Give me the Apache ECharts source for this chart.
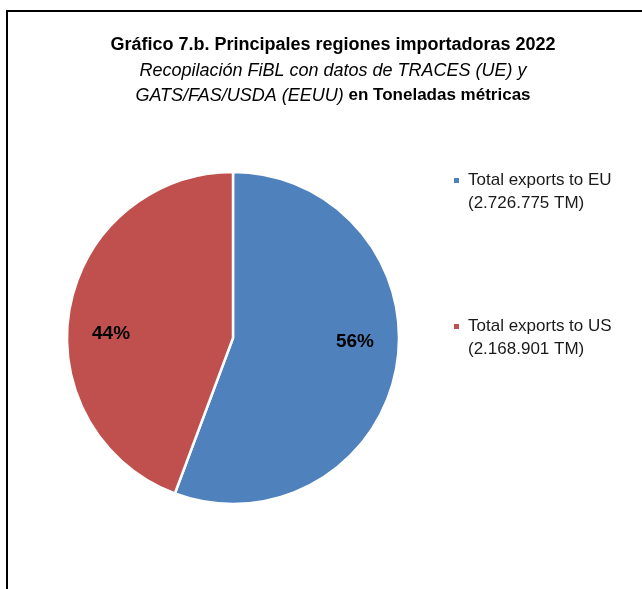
<!DOCTYPE html>
<html>
<head>
<meta charset="utf-8">
<script src="https://cdn.jsdelivr.net/npm/echarts@6/dist/echarts.min.js"></script>
<style>
html,body{margin:0;padding:0;background:#fff;overflow:hidden;}
#frame{position:absolute;left:6px;top:10px;width:700px;height:700px;border-left:2px solid #000;border-top:2px solid #000;}
#chart{position:absolute;left:0;top:0;width:642px;height:589px;}
</style>
</head>
<body>
<div id="frame"></div>
<div id="chart"></div>
<script>
const categories = ['Total exports to EU', 'Total exports to US'];
const volumeLabels = ['(2.726.775 TM)', '(2.168.901 TM)'];
const values = [2726775, 2168901];
const colors = ['#4F81BD', '#C0504D'];

const titleLine1 = 'Gráfico 7.b. Principales regiones importadoras 2022';
const titleLine2 = 'Recopilación FiBL con datos de TRACES (UE) y';
const titleLine3a = 'GATS/FAS/USDA (EEUU)';
const titleLine3b = ' en Toneladas métricas';

const FONT = '"Liberation Sans", Arial, sans-serif';
const data = categories.map((c, i) => ({ name: c, value: values[i], itemStyle: { color: colors[i] } }));
const total = values.reduce((a, b) => a + b, 0);

const chart = echarts.init(document.getElementById('chart'), null, { renderer: 'canvas' });
chart.setOption({
  backgroundColor: 'transparent',
  animation: false,
  title: {
    text: '{b|' + titleLine1 + '}\n{i|' + titleLine2 + '}\n{i|' + titleLine3a + '}{b2|' + titleLine3b + '}',
    left: 328,
    top: 28,
    textAlign: 'center',
    textStyle: {
      fontFamily: FONT,
      fontSize: 17,
      fontWeight: 'normal',
      lineHeight: 25,
      color: '#000',
      rich: {
        b: { fontFamily: FONT, fontSize: 18, fontWeight: 'bold', lineHeight: 25, color: '#000' },
        b2: { fontFamily: FONT, fontSize: 17, fontWeight: 'bold', lineHeight: 25, color: '#000' },
        i: { fontFamily: FONT, fontSize: 18, fontWeight: 'normal', fontStyle: 'italic', lineHeight: 25, color: '#000' }
      }
    }
  },
  legend: {
    orient: 'vertical',
    left: 449,
    top: 141,
    itemWidth: 5,
    itemHeight: 5,
    itemGap: 77,
    icon: 'rect',
    itemStyle: { borderWidth: 0 },
    data: categories,
    formatter: function (name) {
      const i = categories.indexOf(name);
      return '\n' + name + '\n' + volumeLabels[i];
    },
    textStyle: {
      fontFamily: FONT,
      fontSize: 17,
      lineHeight: 23,
      color: '#1a1a1a',
      padding: [0, 0, 0, 4]
    }
  },
  series: [
    {
      type: 'pie',
      center: [233, 338],
      radius: [0, 166],
      startAngle: 90,
      clockwise: true,
      silent: true,
      data: data,
      itemStyle: { borderColor: '#fff', borderWidth: 2.5 },
      label: { show: false },
      labelLine: { show: false }
    },
    {
      type: 'pie',
      center: [233, 338],
      radius: [0, 238],
      startAngle: 98.5,
      clockwise: true,
      silent: true,
      legendHoverLink: false,
      data: categories.map((c, i) => ({ name: c, value: values[i], itemStyle: { color: 'transparent' } })),
      itemStyle: { borderWidth: 0 },
      label: {
        show: true,
        position: 'inside',
        fontFamily: FONT,
        fontSize: 19,
        fontWeight: 'bold',
        color: '#000',
        formatter: function (p) { return Math.round(p.value / total * 100) + '%'; }
      },
      labelLine: { show: false }
    }
  ]
});
</script>
</body>
</html>
